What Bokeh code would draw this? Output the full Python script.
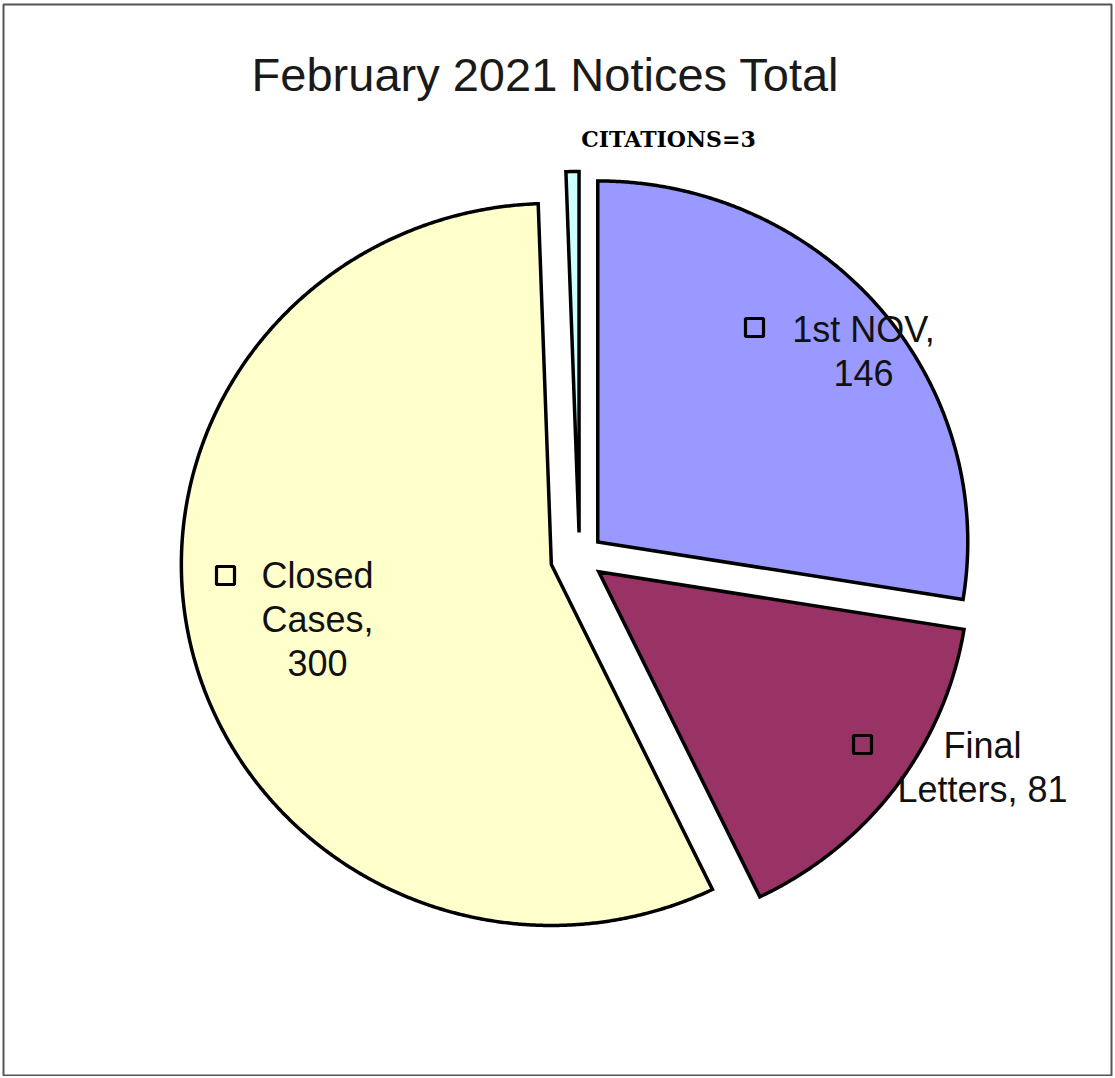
import numpy as np
from bokeh.plotting import figure
from bokeh.models import Range1d, Label, ColumnDataSource, BoxAnnotation
from bokeh.embed import file_html
from bokeh.resources import INLINE

# ---- data ----
categories = ["1st NOV", "Final Letters", "Closed Cases", "CITATIONS"]
values = [146, 81, 300, 3]
colors = ["#9999FF", "#993366", "#FFFFCC", "#CCFFFF"]
title_text = "February 2021 Notices Total"
citation_note = "CITATIONS=3"

# ---- layout / style ----
W, H = 1113, 1076
CX, CY = 579, 557          # pie centre (px)
RX, RY = 370, 361          # radii
EXPLODE = [24, 24, 29, 25]
BASE_SHIFT = 0.37          # baseline correction (em)

p = figure(width=W, height=H, output_backend="svg", toolbar_location=None,
           x_range=Range1d(0, W), y_range=Range1d(H, 0),
           min_border=0)
p.axis.visible = False
p.grid.visible = False
p.outline_line_color = None
p.background_fill_color = "white"
p.border_fill_color = "white"

p.add_layout(BoxAnnotation(left=3, right=1111, top=4, bottom=1075,
                           fill_alpha=0, line_color="#555555", line_alpha=1.0,
                           line_width=2))

total = float(sum(values))
xs, ys = [], []
start = 0.0
for v, d in zip(values, EXPLODE):
    span = 2 * np.pi * v / total
    mid = start + span / 2
    ax = CX + d * np.sin(mid)
    ay = CY - d * np.cos(mid)
    t = np.linspace(start, start + span, max(8, int(span * 200)))
    px = np.concatenate([[ax], ax + RX * np.sin(t)])
    py = np.concatenate([[ay], ay - RY * np.cos(t)])
    xs.append(list(px))
    ys.append(list(py))
    start += span

src = ColumnDataSource(dict(xs=xs, ys=ys, color=colors, name=categories))
p.patches("xs", "ys", source=src, fill_color="color", line_color="black",
          line_width=3.5, line_join="miter")


def add_text(x, y, txt, size, font="Liberation Sans", style="normal", color="#111111"):
    p.add_layout(Label(x=x, y=y - BASE_SHIFT * size, text=txt, text_align="center",
                       text_baseline="alphabetic", text_font=font,
                       text_font_style=style, text_font_size=f"{size}px",
                       text_color=color))


# ---- title ----
add_text(545, 91, title_text, 47, color="#1a1a1a")
add_text(668, 147, citation_note, 22, font="DejaVu Serif", style="bold", color="black")

# ---- data labels (layout positions) ----
label_lines = {
    "1st NOV": ([f"1st NOV,", f"{values[0]}"], 863, 342, (754, 327)),
    "Final Letters": (["Final", f"Letters, {values[1]}"], 982, 758, (862, 744)),
    "Closed Cases": (["Closed", "Cases,", f"{values[2]}"], 317, 588, (225, 575)),
}
LINE_GAP = 44
mx, my = [], []
for key, (lines, lx, ly, (sx, sy)) in label_lines.items():
    for i, ln in enumerate(lines):
        add_text(lx, ly + i * LINE_GAP, ln, 36)
    mx.append(sx)
    my.append(sy)

p.scatter(mx, my, marker="square", size=18, fill_alpha=0, line_color="black",
          line_width=3.2)

open("out.html", "w").write(file_html(p, INLINE))
